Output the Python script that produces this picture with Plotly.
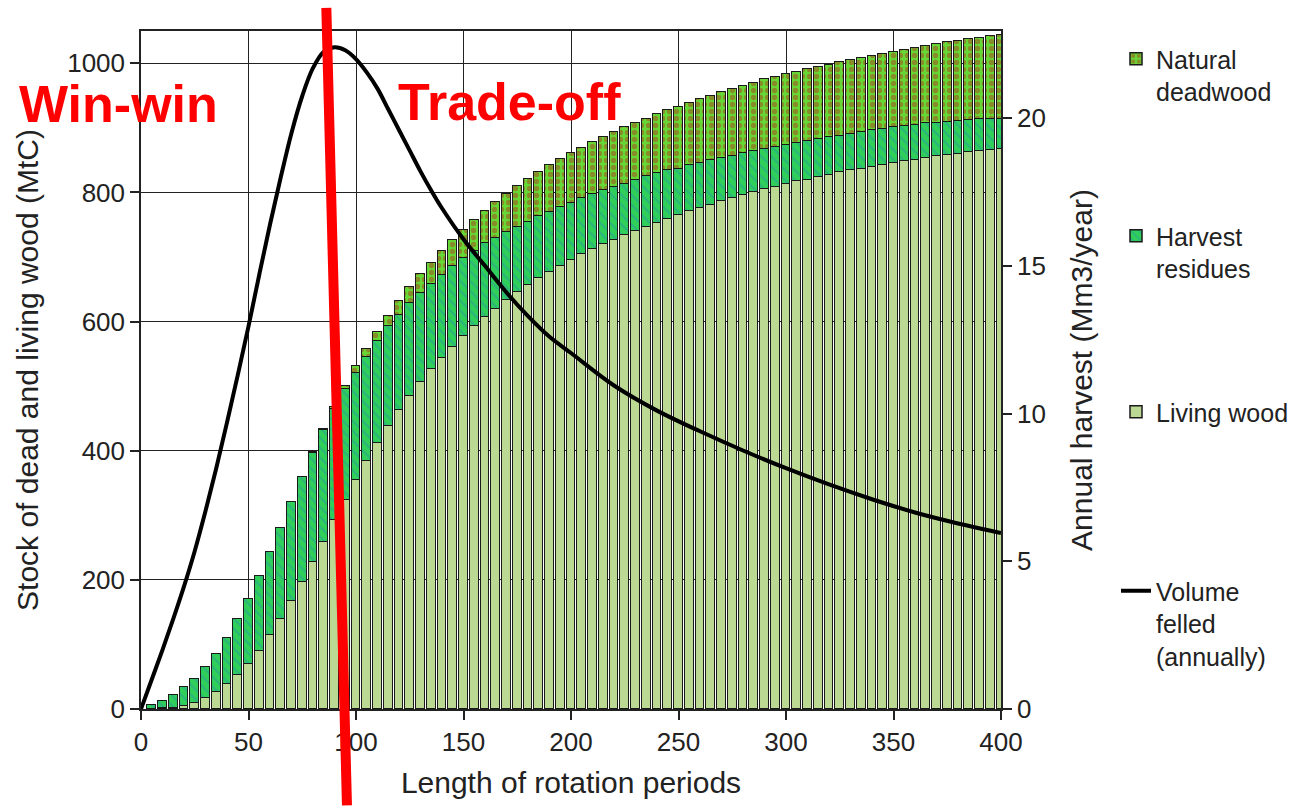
import plotly.graph_objects as go
from plotly.subplots import make_subplots

# Rotation period lengths (years), one bar every 5 years
rotation = list(range(5, 405, 5))

# Upper edge of the living-wood segment (MtC)
living_top = [
    0.5, 1, 2, 5, 10, 17, 26, 38, 52, 69,
    90, 114, 139, 167, 197, 228, 259, 292, 323, 354,
    384, 412, 438, 463, 485, 506, 526, 544, 561, 578,
    593, 607, 620, 633, 646, 657, 667, 677, 686, 695,
    704, 712, 720, 727, 734, 741, 747, 753, 759, 765,
    771, 776, 781, 786, 791, 796, 800, 805, 809, 813,
    817, 820, 824, 827, 831, 834, 837, 840, 843, 846,
    848, 851, 853, 856, 858, 860, 862, 864, 866, 868,
]

# Upper edge of the harvest-residue segment (MtC)
residue_top = [
    6, 13, 22, 34, 47, 65, 85, 110, 139, 171,
    206, 243, 281, 320, 359, 397, 432, 465, 496, 521,
    545, 570, 593, 610, 628, 644, 658, 672, 686, 698,
    710, 721, 729, 739, 746, 754, 763, 770, 778, 784,
    791, 798, 803, 808, 813, 819, 825, 830, 834, 837,
    842, 846, 850, 853, 857, 861, 864, 868, 871, 874,
    877, 880, 883, 886, 888, 891, 894, 896, 899, 901,
    903, 905, 907, 908, 909, 911, 912, 913, 914, 914,
]

# Total stock of dead and living wood (MtC)
total_top = [
    6, 13, 22, 34, 47, 65, 85, 110, 139, 171,
    206, 243, 281, 320, 359, 398, 434, 468, 500, 531,
    558, 584, 609, 632, 653, 673, 691, 709, 726, 742,
    758, 771, 785, 798, 810, 821, 832, 842, 852, 861,
    869, 878, 886, 894, 901, 908, 914, 921, 927, 933,
    939, 945, 950, 955, 960, 965, 970, 975, 979, 983,
    987, 991, 994, 998, 1002, 1005, 1008, 1012, 1015, 1018,
    1021, 1024, 1027, 1030, 1033, 1035, 1037, 1039, 1042, 1044,
]

living = living_top
residues = [r - l for r, l in zip(residue_top, living_top)]
deadwood = [t - r for t, r in zip(total_top, residue_top)]

# Annual volume felled (Mm3/year) against rotation length
felled_x = [0, 5, 10, 15, 20, 25, 30, 35, 40, 45, 50, 55, 60, 65, 70, 75,
            80, 85, 90, 95, 100, 105, 110, 115, 120, 125, 130, 135, 140, 150,
            160, 170, 180, 190, 200, 220, 240, 260, 280, 300, 320, 340, 360,
            380, 400]
felled_y = [0, 1.0, 2.0, 3.05, 4.15, 5.35, 6.7, 8.15, 9.7, 11.3, 12.95, 14.7,
            16.4, 18.0, 19.5, 20.75, 21.7, 22.25, 22.4, 22.3, 22.0, 21.55,
            21.0, 20.3, 19.6, 18.9, 18.2, 17.55, 16.95, 15.9,
            15.0, 14.1, 13.3, 12.6, 12.05, 10.95, 10.1, 9.4, 8.75, 8.15,
            7.6, 7.1, 6.65, 6.28, 5.96]

FONT = "Liberation Sans, Arial, Helvetica, sans-serif"
INK = "#222222"
OUTLINE = dict(color="#1a1a1a", width=1.5)

fig = make_subplots(specs=[[{"secondary_y": True}]])

fig.add_trace(go.Bar(
    x=rotation, y=living, width=4, name="Living wood", legend="legend3",
    marker=dict(color="#bcd994", line=OUTLINE),
), secondary_y=False)

fig.add_trace(go.Bar(
    x=rotation, y=residues, width=4, name="Harvest<br>residues", legend="legend2",
    marker=dict(color="#2fcf5a", line=OUTLINE,
                pattern=dict(shape="\\", fgcolor="#2a8fa8", bgcolor="#2fcf5a",
                             size=7, solidity=0.25)),
), secondary_y=False)

fig.add_trace(go.Bar(
    x=rotation, y=deadwood, width=4, name="Natural<br>deadwood", legend="legend",
    marker=dict(color="#66d836", line=OUTLINE,
                pattern=dict(shape=".", fgcolor="#a8401a", bgcolor="#66d836",
                             size=7, solidity=0.45)),
), secondary_y=False)

fig.add_trace(go.Scatter(
    x=felled_x, y=felled_y, mode="lines", name="Volume<br>felled<br>(annually)",
    legend="legend4", line=dict(color="black", width=4, shape="spline", smoothing=1.0),
), secondary_y=True)

legend_common = dict(
    xref="container", yref="container",
    xanchor="left", yanchor="top", valign="top", bgcolor="rgba(0,0,0,0)",
    font=dict(family=FONT, size=25, color=INK), itemwidth=30,
)

# Legend blocks stacked down the right-hand side of the figure
LEG_X = 1116 / 1299
fig.update_layout(
    width=1299, height=809, autosize=False,
    margin=dict(l=141, r=298, t=31, b=100),
    paper_bgcolor="white", plot_bgcolor="white",
    barmode="stack", bargap=0, showlegend=True,
    font=dict(family=FONT, color=INK),
    legend=dict(x=LEG_X, y=1 - 36 / 809, **legend_common),
    legend2=dict(x=LEG_X, y=1 - 213 / 809, **legend_common),
    legend3=dict(x=LEG_X, y=1 - 389 / 809, **legend_common),
    legend4=dict(x=LEG_X, y=1 - 568 / 809, **legend_common),
)

axis_common = dict(
    showline=True, linecolor=INK, linewidth=1.5,
    ticks="outside", ticklen=9, tickcolor=INK, tickwidth=1.5,
    tickfont=dict(family=FONT, size=26, color=INK),
    zeroline=False, automargin=False,
)

fig.update_xaxes(
    domain=[0, 1],
    range=[0, 400], tickvals=list(range(0, 401, 50)),
    showgrid=True, gridcolor=INK, gridwidth=1, mirror=True,
    title=dict(text="Length of rotation periods", standoff=16,
               font=dict(family=FONT, size=30, color=INK)),
    **axis_common,
)
fig.update_yaxes(
    range=[0, 1050], tickvals=list(range(0, 1001, 200)),
    showgrid=True, gridcolor=INK, gridwidth=1, mirror=True,
    title=dict(text="Stock of dead and living wood (MtC)", standoff=20,
               font=dict(family=FONT, size=30, color=INK)),
    secondary_y=False, **axis_common,
)
fig.update_yaxes(
    range=[0, 22.95], tickvals=list(range(0, 21, 5)), showgrid=False,
    title=dict(text="Annual harvest (Mm3/year)", standoff=26,
               font=dict(family=FONT, size=30, color=INK)),
    secondary_y=True, **axis_common,
)

# Divider between the two regimes
fig.add_shape(type="line", xref="paper", yref="paper",
              x0=0.2155, y0=1.034, x1=0.2395, y1=-0.142,
              line=dict(color="#ff0000", width=10))

label_font = dict(family=FONT, size=52, color="#ff0000")
fig.add_annotation(text="<b>Win-win</b>", xref="paper", yref="paper",
                   x=-0.0256, y=0.893, xanchor="center", yanchor="middle",
                   showarrow=False, font=label_font)
fig.add_annotation(text="<b>Trade-off</b>", xref="paper", yref="paper",
                   x=0.429, y=0.896, xanchor="center", yanchor="middle",
                   showarrow=False, font=label_font)

fig.write_html("out.html")
